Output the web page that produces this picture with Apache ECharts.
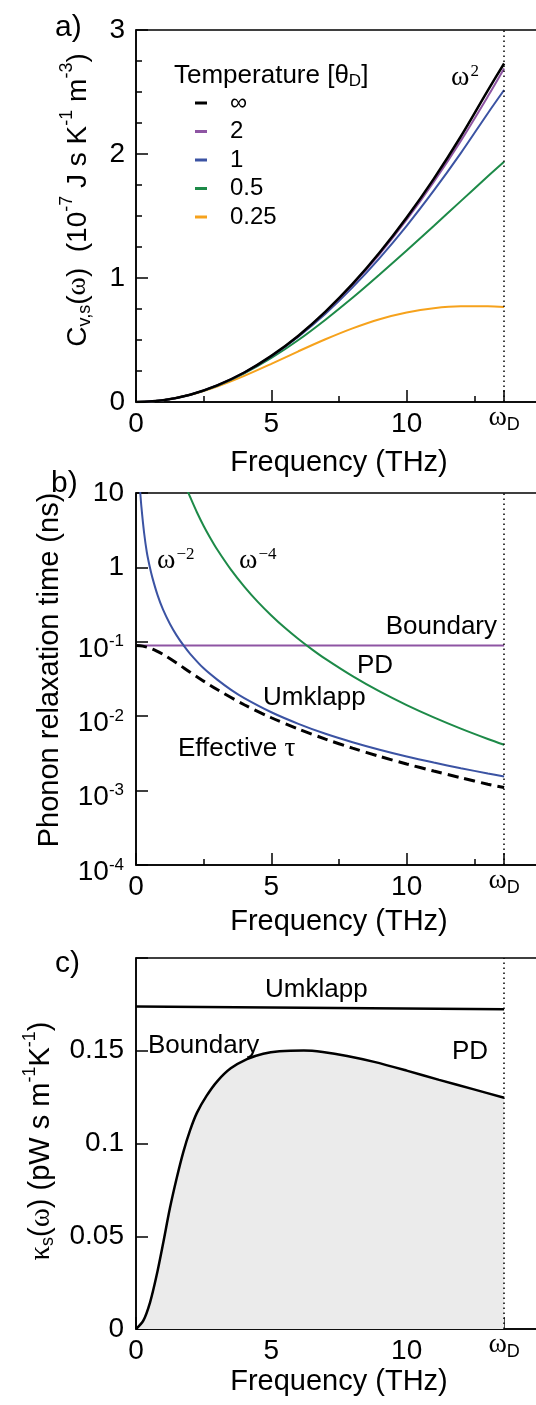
<!DOCTYPE html>
<html>
<head>
<meta charset="utf-8">
<script src="https://cdn.jsdelivr.net/npm/echarts@6/dist/echarts.min.js"></script>
<style>
  html, body { margin: 0; padding: 0; background: #fff; overflow: hidden; }
  #chart { width: 560px; height: 1405px; }
</style>
</head>
<body>
<div id="chart"></div>
<script>
// Debye frequency, marked by the dotted line on every panel
const omegaD = 13.6;

// a) spectral heat capacity vs frequency, one curve per temperature
const freqA = [0, 1, 2, 3, 4, 5, 6, 7, 8, 9, 10, 11, 12, 13, 13.6];
const cInf = [0, 0.015, 0.059, 0.134, 0.238, 0.372, 0.535, 0.729, 0.952, 1.205, 1.487, 1.799, 2.141, 2.513, 2.73];
const c2 = [0, 0.015, 0.059, 0.134, 0.237, 0.371, 0.533, 0.725, 0.945, 1.193, 1.470, 1.775, 2.106, 2.465, 2.69];
const c1 = [0, 0.015, 0.059, 0.133, 0.236, 0.368, 0.527, 0.712, 0.924, 1.161, 1.421, 1.704, 2.007, 2.329, 2.516];
const c05 = [0, 0.015, 0.059, 0.131, 0.231, 0.355, 0.500, 0.664, 0.840, 1.028, 1.222, 1.420, 1.620, 1.820, 1.937];
const c025 = [0, 0.015, 0.058, 0.125, 0.211, 0.308, 0.409, 0.506, 0.594, 0.668, 0.722, 0.757, 0.772, 0.772, 0.767];
const tempNames = ['∞', '2', '1', '0.5', '0.25'];

// b) relaxation times (ns)
const umkFreq = [0.15, 0.2, 0.3, 0.4, 0.5, 0.6, 0.8, 1, 1.25, 1.5, 1.75, 2, 2.5, 3, 3.5, 4, 5, 6, 7, 8, 9, 10, 11, 12, 13, 13.6];
const umkTau = [11, 6.5, 2.9, 1.6, 1.05, 0.74, 0.42, 0.27, 0.175, 0.122, 0.09, 0.069, 0.044, 0.031, 0.0228, 0.0175, 0.0113, 0.0079, 0.0058, 0.00447, 0.00354, 0.00287, 0.00238, 0.002, 0.0017, 0.00155];
const pdFreq = [1.9, 2, 2.25, 2.5, 2.75, 3, 3.5, 4, 4.5, 5, 5.5, 6, 6.5, 7, 8, 9, 10, 11, 12, 13, 13.6];
const pdTau = [10.8, 8.83, 5.51, 3.61, 2.47, 1.74, 0.941, 0.552, 0.344, 0.226, 0.154, 0.109, 0.0791, 0.0588, 0.0345, 0.0215, 0.0141, 0.00964, 0.00681, 0.00494, 0.00413];
const bndFreq = [0, 13.6];
const bndTau = [0.0893, 0.0893];
const effFreq = [0, 0.25, 0.5, 0.75, 1, 1.5, 2, 2.5, 3, 4, 5, 6, 7, 8, 9, 10, 11, 12, 13, 13.6];
const effTau = [0.0893, 0.0875, 0.0827, 0.0757, 0.0677, 0.0519, 0.039, 0.0296, 0.0228, 0.01426, 0.00953, 0.00671, 0.00492, 0.00372, 0.00288, 0.00228, 0.00183, 0.00149, 0.00122, 0.0011];

// c) spectral thermal conductivity
const kapFreq = [0, 0.27, 0.52, 0.76, 1.01, 1.25, 1.5, 1.75, 2, 2.25, 2.6, 3, 3.5, 4.1, 4.7, 5.3, 6.2, 6.9, 7.8, 8.8, 10, 11.2, 12.45, 13.6];
const kapVal = [0, 0.0045, 0.0144, 0.0288, 0.0468, 0.0649, 0.0811, 0.0955, 0.1072, 0.1165, 0.1255, 0.1335, 0.1405, 0.1455, 0.1484, 0.1497, 0.1501, 0.1493, 0.1472, 0.1440, 0.1393, 0.1343, 0.1293, 0.1247];
const umkFreqC = [0, 13.6];
const umkValC = [0.1739, 0.1724];

// tick values
const xLabelVals = [0, 5, 10, omegaD];
const xTickVals = [0, 5, 10, omegaD];

const SANS = "'Liberation Sans', Arial, Helvetica, sans-serif";
const SERIF = "'Liberation Serif', 'Times New Roman', serif";
const BLACK = '#000';

const pairs = (xs, ys) => xs.map((x, i) => [x, ys[i]]);

const dotted = {
  silent: true,
  symbol: ['none', 'none'],
  label: { show: false },
  lineStyle: { color: BLACK, type: [1.5, 3.5], width: 1.5 },
  data: [{ xAxis: omegaD }]
};

function makeX(gridIndex, nameGap) {
  return {
    type: 'value', gridIndex: gridIndex, min: 0, max: 15, interval: 5,
    axisLine: { show: true, onZero: false, lineStyle: { color: BLACK, width: 1.5 } },
    axisTick: { show: true, inside: true, length: 12, customValues: xTickVals, lineStyle: { color: BLACK, width: 1.5 } },
    minorTick: { show: true, splitNumber: 2, length: 6, lineStyle: { color: BLACK, width: 1.5 } },
    splitLine: { show: false },
    minorSplitLine: { show: false },
    axisLabel: {
      customValues: xLabelVals, margin: 8, color: BLACK, fontSize: 28, fontFamily: SANS,
      formatter: function (v) { return v === omegaD ? '{w|ω}{d|D}' : '{n|' + v + '}'; },
      rich: {
        n: { fontSize: 28, lineHeight: 28, fontFamily: SANS, color: BLACK },
        w: { fontSize: 28, lineHeight: 24, padding: [0, 0, 8, 0], fontFamily: SERIF, color: BLACK },
        d: { fontSize: 18, lineHeight: 18, verticalAlign: 'bottom', fontFamily: SANS, color: BLACK }
      }
    },
    name: 'Frequency (THz)', nameLocation: 'middle', nameGap: nameGap,
    nameTextStyle: { fontSize: 29, color: BLACK, fontFamily: SANS }
  };
}

const yCommon = {
  axisLine: { show: true, onZero: false, lineStyle: { color: BLACK, width: 1.5 } },
  splitLine: { show: false }
};

const gridBase = { show: true, borderColor: BLACK, borderWidth: 1.5, backgroundColor: 'transparent', containLabel: false, outerBoundsMode: 'none' };

const option = {
  animation: false,
  backgroundColor: '#fff',
  grid: [
    Object.assign({ left: 136, top: 30, width: 406, height: 372 }, gridBase),
    Object.assign({ left: 136, top: 493, width: 406, height: 372 }, gridBase),
    Object.assign({ left: 136, top: 958, width: 406, height: 371 }, gridBase)
  ],
  xAxis: [makeX(0, 46), makeX(1, 42), makeX(2, 37)],
  yAxis: [
    Object.assign({
      type: 'value', gridIndex: 0, min: 0, max: 3, interval: 1,
      axisTick: { show: true, inside: true, length: 12, lineStyle: { color: BLACK, width: 1.5 } },
      minorTick: { show: true, splitNumber: 4, length: 6, lineStyle: { color: BLACK, width: 1.5 } },
      minorSplitLine: { show: false },
      axisLabel: { margin: 11, color: BLACK, fontSize: 28, fontFamily: SANS }
    }, yCommon),
    Object.assign({
      type: 'log', logBase: 10, gridIndex: 1, min: 0.0001, max: 10,
      axisTick: { show: true, inside: true, length: 12, lineStyle: { color: BLACK, width: 1.5 } },
      minorTick: { show: false },
      axisLabel: {
        margin: 12, color: BLACK,
        formatter: function (v) {
          const p = Math.round(Math.log10(v));
          if (p >= 0) return '{n|' + Math.pow(10, p) + '}';
          return '{e|10}{s|' + p + '}';
        },
        rich: {
          n: { fontSize: 28, lineHeight: 28, fontFamily: SANS, color: BLACK },
          e: { fontSize: 28, lineHeight: 29, padding: [14, 0, 0, 0], fontFamily: SANS, color: BLACK },
          s: { fontSize: 17, lineHeight: 17, padding: [6, 0, 0, 0], verticalAlign: 'top', fontFamily: SANS, color: BLACK }
        }
      }
    }, yCommon),
    Object.assign({
      type: 'value', gridIndex: 2, min: 0, max: 0.2, interval: 0.05,
      axisTick: { show: true, inside: true, length: 12, lineStyle: { color: BLACK, width: 1.5 } },
      minorTick: { show: false },
      axisLabel: {
        margin: 12, color: BLACK, fontSize: 28, fontFamily: SANS,
        formatter: function (v) { return v >= 0.199 ? '' : String(+v.toFixed(2)); }
      }
    }, yCommon)
  ],
  legend: {
    show: true, orient: 'vertical', left: 195, top: 91, padding: 0, itemGap: 4.5,
    itemWidth: 12, itemHeight: 3, icon: 'rect', selectedMode: false,
    data: tempNames,
    textStyle: { fontSize: 24, lineHeight: 24, color: BLACK, fontFamily: SANS, padding: [0, 0, 0, 18] }
  },
  series: [
    { name: '0.25', type: 'line', xAxisIndex: 0, yAxisIndex: 0, data: pairs(freqA, c025), showSymbol: false, symbol: 'none', smooth: 0.3, color: '#f6a21c', lineStyle: { width: 2 } },
    { name: '0.5', type: 'line', xAxisIndex: 0, yAxisIndex: 0, data: pairs(freqA, c05), showSymbol: false, symbol: 'none', smooth: 0.3, color: '#1d8a48', lineStyle: { width: 2 } },
    { name: '1', type: 'line', xAxisIndex: 0, yAxisIndex: 0, data: pairs(freqA, c1), showSymbol: false, symbol: 'none', smooth: 0.3, color: '#3b53a3', lineStyle: { width: 2 } },
    { name: '2', type: 'line', xAxisIndex: 0, yAxisIndex: 0, data: pairs(freqA, c2), showSymbol: false, symbol: 'none', smooth: 0.3, color: '#8e55a3', lineStyle: { width: 2 } },
    { name: '∞', type: 'line', xAxisIndex: 0, yAxisIndex: 0, data: pairs(freqA, cInf), showSymbol: false, symbol: 'none', smooth: 0.3, color: BLACK, lineStyle: { width: 2.5 }, markLine: dotted },

    { name: 'Boundary', type: 'line', xAxisIndex: 1, yAxisIndex: 1, data: pairs(bndFreq, bndTau), showSymbol: false, symbol: 'none', color: '#8e55a3', lineStyle: { width: 2 }, markLine: dotted },
    { name: 'PD', type: 'line', xAxisIndex: 1, yAxisIndex: 1, data: pairs(pdFreq, pdTau), showSymbol: false, symbol: 'none', smooth: 0.3, color: '#1d8a48', lineStyle: { width: 2 } },
    { name: 'Umklapp', type: 'line', xAxisIndex: 1, yAxisIndex: 1, data: pairs(umkFreq, umkTau), showSymbol: false, symbol: 'none', smooth: 0.3, color: '#3b53a3', lineStyle: { width: 2 } },
    { name: 'Effective', type: 'line', xAxisIndex: 1, yAxisIndex: 1, data: pairs(effFreq, effTau), showSymbol: false, symbol: 'none', smooth: 0.3, color: BLACK, lineStyle: { width: 3, type: [11, 6] } },

    { name: 'kappa', type: 'line', xAxisIndex: 2, yAxisIndex: 2, data: pairs(kapFreq, kapVal), showSymbol: false, symbol: 'none', smooth: 0.3, color: BLACK, lineStyle: { width: 2.5 }, areaStyle: { color: '#ebebeb', opacity: 1 }, markLine: dotted },
    { name: 'kappaU', type: 'line', xAxisIndex: 2, yAxisIndex: 2, data: pairs(umkFreqC, umkValC), showSymbol: false, symbol: 'none', color: BLACK, lineStyle: { width: 2.5 } }
  ],
  graphic: []
};

// text helpers
function label(x, y, text, size, extra) {
  return Object.assign({
    type: 'text', x: x, y: y, silent: true, z: 100,
    style: Object.assign({ text: text, fill: BLACK, fontSize: size, fontFamily: SANS, align: 'left', verticalAlign: 'middle' }, extra || {})
  });
}
function supRich(size) {
  return {
    n: { fontSize: size, lineHeight: 40, fontFamily: SANS },
    w: { fontSize: size, lineHeight: 40, fontFamily: SERIF },
    sup: { fontSize: 18, lineHeight: 18, verticalAlign: 'top', fontFamily: SANS },
    sub: { fontSize: 18, lineHeight: 18, verticalAlign: 'bottom', padding: [0, 0, 4, 0], fontFamily: SANS }
  };
}
function vtitle(x, y, text, size) {
  const g = label(x, y, text, size, { align: 'center', rich: supRich(size) });
  g.rotation = Math.PI / 2;
  return g;
}
const annRich = {
  w: { fontSize: 28, fontFamily: SERIF, lineHeight: 30 },
  s: { fontSize: 17, fontFamily: SERIF, lineHeight: 17, verticalAlign: 'top', padding: [0, 0, 0, 1] },
  t: { fontSize: 26, fontFamily: SANS, lineHeight: 30 },
  tau: { fontSize: 27, fontFamily: SERIF, lineHeight: 30 }
};

option.graphic = [
  // panel letters
  label(55, 28, 'a)', 30),
  label(51, 484, 'b)', 30),
  label(55, 964, 'c)', 30),
  // y axis titles
  vtitle(78, 200, '{n|C}{sub|v,s}{n|(}{w|ω}{n|)  (10}{sup|-7}{n| J s K}{sup|-1}{n| m}{sup|-3}{n|)}', 28),
  vtitle(50, 670, '{n|Phonon relaxation time (ns)}', 29),
  vtitle(41, 1141, '{w|κ}{sub|s}{n|(}{w|ω}{n|) (pW s m}{sup|-1}{n|K}{sup|-1}{n|)}', 29),
  // panel a
  label(174, 76, '{t|Temperature [θ}{d|D}{t|]}', 26, { rich: { t: { fontSize: 26, fontFamily: SANS, lineHeight: 28 }, d: { fontSize: 17, fontFamily: SANS, lineHeight: 17, verticalAlign: 'bottom' } } }),
  label(451, 78, '{w|ω}{s|2}', 28, { rich: annRich }),
  // panel b
  label(157, 561, '{w|ω}{s|−2}', 28, { rich: annRich }),
  label(239, 561, '{w|ω}{s|−4}', 28, { rich: annRich }),
  label(497, 627, 'Boundary', 26, { align: 'right' }),
  label(357, 666, 'PD', 26),
  label(263, 698, 'Umklapp', 26),
  label(178, 749, '{t|Effective }{tau|τ}', 26, { rich: annRich }),
  // panel c
  label(265, 990, 'Umklapp', 26),
  label(148, 1046, 'Boundary', 26),
  label(452, 1052, 'PD', 26)
];

const chart = echarts.init(document.getElementById('chart'), null, { renderer: 'canvas' });
chart.setOption(option);
</script>
</body>
</html>
